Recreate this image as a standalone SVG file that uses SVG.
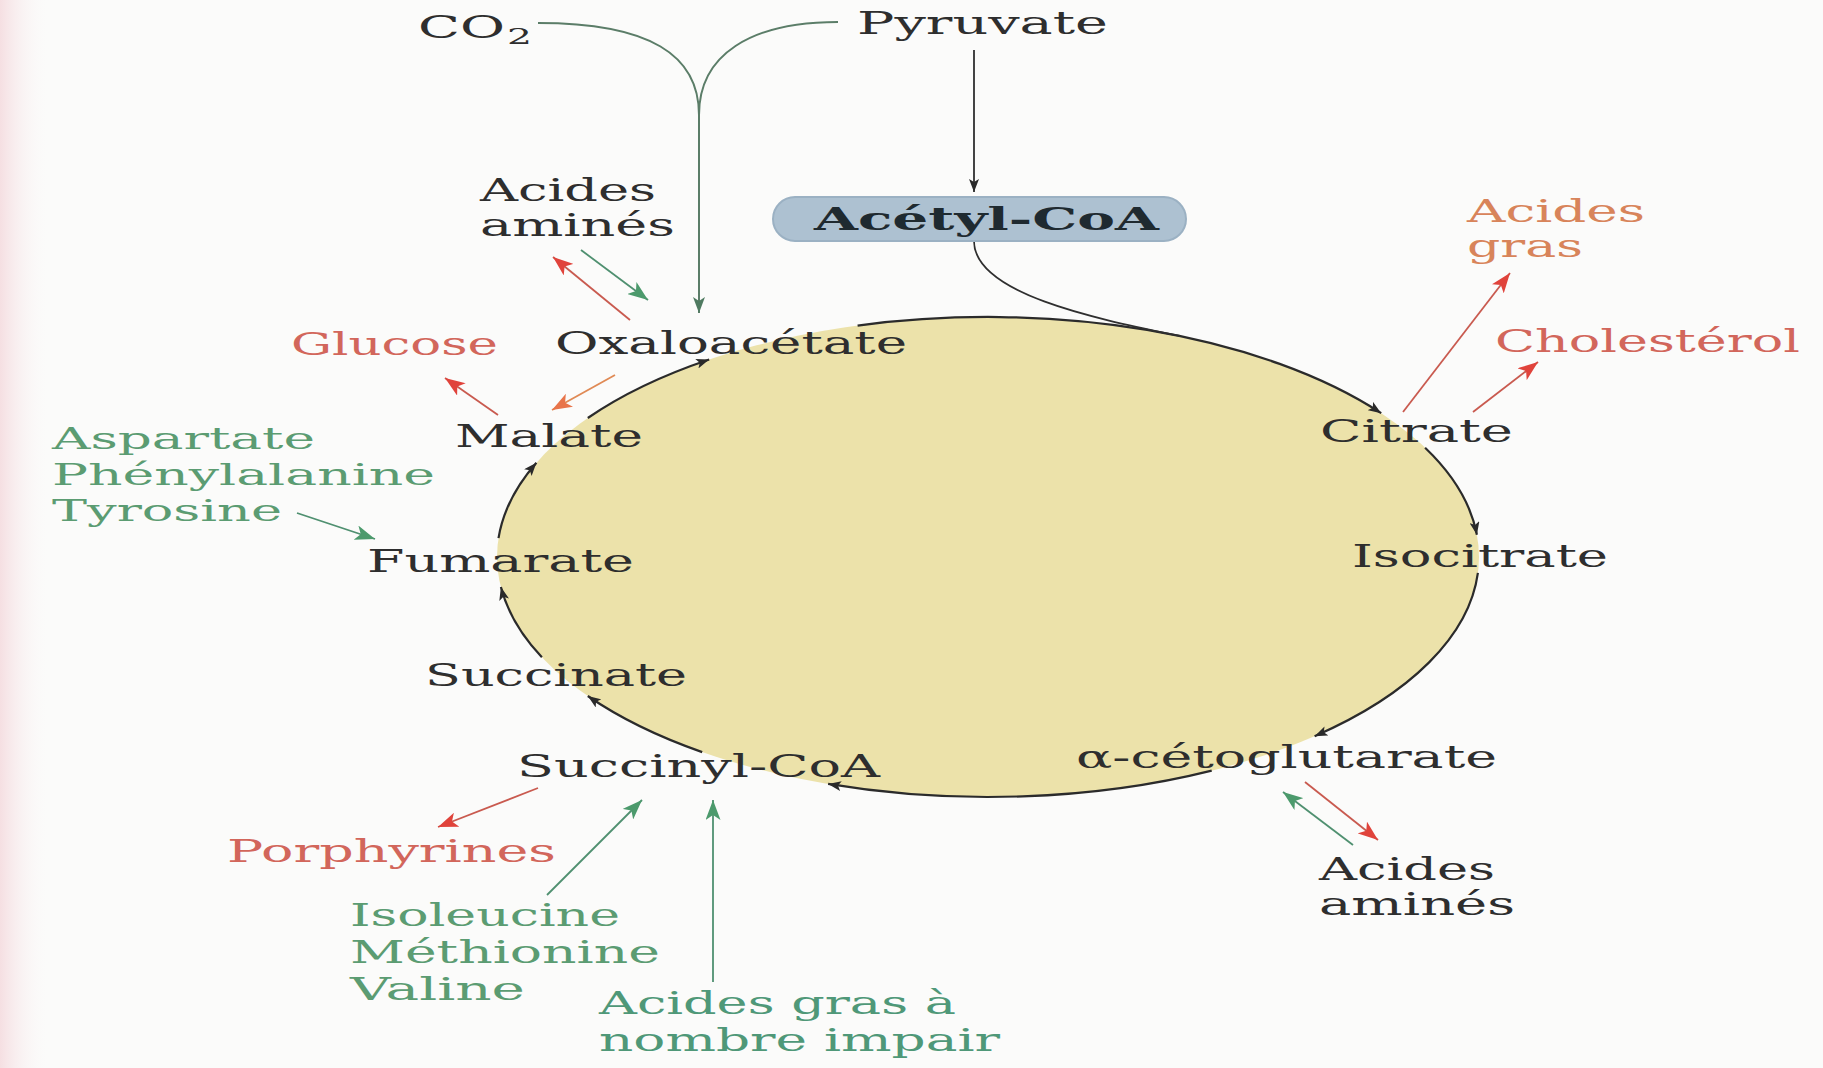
<svg xmlns="http://www.w3.org/2000/svg" width="1823" height="1068" viewBox="0 0 1823 1068">
<style>
text{font-family:"DejaVu Serif","Liberation Serif",serif;font-size:32px;fill:#2e2e2e;}
.b{font-weight:bold;font-size:32px;fill:#1f2a30;}
.red{fill:#d2665b;}
.org{fill:#d8845a;}
.grn{fill:#5b9c72;}
.teal{fill:#4f9878;}
.sm{font-size:30px;}
.arc{fill:none;stroke:#2b2b2b;stroke-width:2.2;}
.lk{fill:none;stroke:#2f2f2f;stroke-width:1.8;}
.lg{fill:none;stroke:#5b7d68;stroke-width:2;}
.lr{fill:none;stroke:#c95a4f;stroke-width:1.8;}
.lo{fill:none;stroke:#e08a55;stroke-width:1.8;}
.lgr{fill:none;stroke:#4f9070;stroke-width:1.8;}
</style>
<defs>
<marker id="mk" markerUnits="userSpaceOnUse" markerWidth="13" markerHeight="10" refX="13" refY="5" orient="auto"><path d="M0,0 L13,5 L0,10 L3,5 z" fill="#2a2a2a"/></marker>
<marker id="mg" markerUnits="userSpaceOnUse" markerWidth="16" markerHeight="12" refX="16" refY="6" orient="auto"><path d="M0,0 L16,6 L0,12 L4,6 z" fill="#4f7a60"/></marker>
<marker id="mr" markerUnits="userSpaceOnUse" markerWidth="20" markerHeight="15" refX="20" refY="7.5" orient="auto"><path d="M0,0 L20,7.5 L0,15 L5,7.5 z" fill="#e0433b"/></marker>
<marker id="mo" markerUnits="userSpaceOnUse" markerWidth="20" markerHeight="15" refX="20" refY="7.5" orient="auto"><path d="M0,0 L20,7.5 L0,15 L5,7.5 z" fill="#e8744a"/></marker>
<marker id="mgr" markerUnits="userSpaceOnUse" markerWidth="20" markerHeight="15" refX="20" refY="7.5" orient="auto"><path d="M0,0 L20,7.5 L0,15 L5,7.5 z" fill="#4c9a6c"/></marker>
<linearGradient id="edge" x1="0" y1="0" x2="1" y2="0"><stop offset="0" stop-color="#f5dfe2"/><stop offset="1" stop-color="#fbfbfb" stop-opacity="0"/></linearGradient>
</defs>
<rect x="0" y="0" width="1823" height="1068" fill="#fbfbfa"/>
<rect x="0" y="0" width="50" height="1068" fill="url(#edge)"/>

<g id="cycle">
<ellipse cx="988" cy="557" rx="491" ry="240" fill="#ece2aa"/>
</g>

<g id="connectors">
<path class="arc" d="M857.6,325.6 A491,240 0 0 1 1381.2,413.2" marker-end="url(#mk)"/>
<path class="arc" d="M1425.1,447.7 A491,240 0 0 1 1476.9,534.8" marker-end="url(#mk)"/>
<path class="arc" d="M1477.9,572.9 A491,240 0 0 1 1314.6,736.2" marker-end="url(#mk)"/>
<path class="arc" d="M1211.7,770.6 A491,240 0 0 1 828.1,783.9" marker-end="url(#mk)"/>
<path class="arc" d="M702.2,752.1 A491,240 0 0 1 587.8,696" marker-end="url(#mk)"/>
<path class="arc" d="M541.9,657.3 A491,240 0 0 1 500.9,587.1" marker-end="url(#mk)"/>
<path class="arc" d="M498.5,538.2 A491,240 0 0 1 536.4,462.8" marker-end="url(#mk)"/>
<path class="arc" d="M587.8,418 A491,240 0 0 1 709.2,359.5" marker-end="url(#mk)"/>
<path class="lk" d="M974,241 C974,295 1101.7,319.8 1180,336"/>
<path class="lk" d="M974,50 L974,192" marker-end="url(#mk)"/>
<path class="lg" d="M538,23 C650,23 699,55 699,115"/>
<path class="lg" d="M838,22 C750,22 699,55 699,115 L699,313" marker-end="url(#mg)"/>
<path class="lr" d="M630,320 L553,257" marker-end="url(#mr)"/>
<path class="lgr" d="M581,250 L648,300" marker-end="url(#mgr)"/>
<path class="lr" d="M498,415 L445,378" marker-end="url(#mr)"/>
<path class="lo" d="M615,375 L552,410" marker-end="url(#mo)"/>
<path class="lgr" d="M297,513 L375,539" marker-end="url(#mgr)"/>
<path class="lr" d="M1403,412 L1510,273" marker-end="url(#mr)"/>
<path class="lr" d="M1473,412 L1538,362" marker-end="url(#mr)"/>
<path class="lr" d="M1305,782 L1378,840" marker-end="url(#mr)"/>
<path class="lgr" d="M1353,845 L1283,792" marker-end="url(#mgr)"/>
<path class="lr" d="M538,788 L438,827" marker-end="url(#mr)"/>
<path class="lgr" d="M547,895 L642,800" marker-end="url(#mgr)"/>
<path class="lgr" d="M713,982 L713,800" marker-end="url(#mgr)"/>
</g>

<g id="co2"><text x="418" y="38" textLength="87" lengthAdjust="spacingAndGlyphs">CO</text><text x="507" y="44" textLength="25" lengthAdjust="spacingAndGlyphs" style="font-size:23px">2</text></g>
<g id="pyruvate"><text x="857" y="34" textLength="251" lengthAdjust="spacingAndGlyphs">Pyruvate</text></g>
<g id="acetylcoa"><rect x="773" y="197" width="413" height="44" rx="22" fill="#adc1d1" stroke="#9bb1c3" stroke-width="2"/><text class="b" x="814" y="230" textLength="345" lengthAdjust="spacingAndGlyphs">Acétyl-CoA</text></g>
<g id="aa-top"><text x="480" y="201" textLength="176" lengthAdjust="spacingAndGlyphs">Acides</text><text x="480" y="236" textLength="195" lengthAdjust="spacingAndGlyphs">aminés</text></g>
<g id="acides-gras"><text class="org" x="1467" y="222" textLength="178" lengthAdjust="spacingAndGlyphs">Acides</text><text class="org" x="1467" y="257" textLength="116" lengthAdjust="spacingAndGlyphs">gras</text></g>
<g id="glucose"><text class="red" x="291" y="355" textLength="207" lengthAdjust="spacingAndGlyphs">Glucose</text></g>
<g id="oxaloacetate"><text x="555" y="354" textLength="352" lengthAdjust="spacingAndGlyphs">Oxaloacétate</text></g>
<g id="cholesterol"><text class="red" x="1495" y="352" textLength="305" lengthAdjust="spacingAndGlyphs">Cholestérol</text></g>
<g id="malate"><text x="455" y="447" textLength="188" lengthAdjust="spacingAndGlyphs">Malate</text></g>
<g id="citrate"><text x="1320" y="442" textLength="193" lengthAdjust="spacingAndGlyphs">Citrate</text></g>
<g id="aa-fumarate"><text class="grn sm" x="52" y="449" textLength="263" lengthAdjust="spacingAndGlyphs">Aspartate</text><text class="grn sm" x="52" y="485" textLength="383" lengthAdjust="spacingAndGlyphs">Phénylalanine</text><text class="grn sm" x="52" y="521" textLength="230" lengthAdjust="spacingAndGlyphs">Tyrosine</text></g>
<g id="fumarate"><text x="367" y="572" textLength="267" lengthAdjust="spacingAndGlyphs">Fumarate</text></g>
<g id="isocitrate"><text x="1352" y="567" textLength="256" lengthAdjust="spacingAndGlyphs">Isocitrate</text></g>
<g id="succinate"><text x="425" y="686" textLength="262" lengthAdjust="spacingAndGlyphs">Succinate</text></g>
<g id="akg"><text x="1076" y="768" textLength="421" lengthAdjust="spacingAndGlyphs">α-cétoglutarate</text></g>
<g id="succinylcoa"><text x="517" y="777" textLength="363" lengthAdjust="spacingAndGlyphs">Succinyl-CoA</text></g>
<g id="porphyrines"><text class="red" x="227" y="862" textLength="329" lengthAdjust="spacingAndGlyphs">Porphyrines</text></g>
<g id="aa-bottom"><text x="1319" y="880" textLength="176" lengthAdjust="spacingAndGlyphs">Acides</text><text x="1319" y="915" textLength="196" lengthAdjust="spacingAndGlyphs">aminés</text></g>
<g id="aa-succinyl"><text class="grn" x="350" y="926" textLength="270" lengthAdjust="spacingAndGlyphs">Isoleucine</text><text class="grn" x="350" y="963" textLength="310" lengthAdjust="spacingAndGlyphs">Méthionine</text><text class="grn" x="350" y="1000" textLength="175" lengthAdjust="spacingAndGlyphs">Valine</text></g>
<g id="ag-impair"><text class="teal" x="599" y="1014" textLength="357" lengthAdjust="spacingAndGlyphs">Acides gras à</text><text class="teal" x="599" y="1051" textLength="401" lengthAdjust="spacingAndGlyphs">nombre impair</text></g>
</svg>
